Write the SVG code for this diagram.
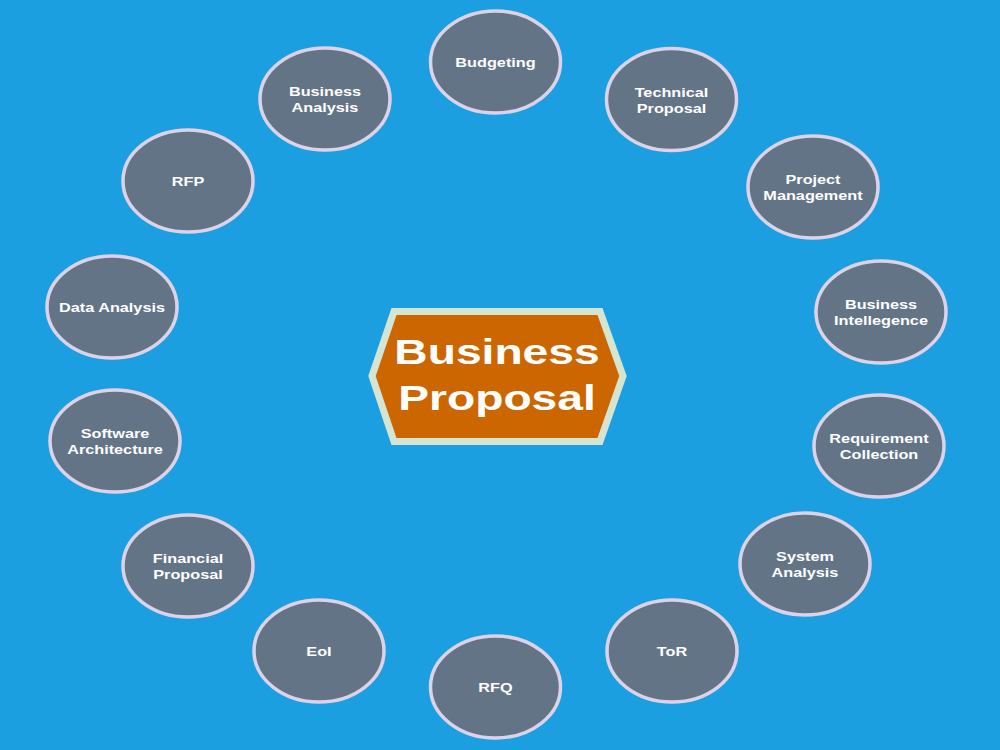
<svg xmlns="http://www.w3.org/2000/svg" width="1000" height="750" viewBox="0 0 1000 750">
<defs>
<style>
.bg{fill:#1c9fe1}
.node ellipse{fill:#637487;stroke:#ddd2e8;stroke-width:3.5}
.node text{font-family:"Liberation Sans",Arial,sans-serif;font-weight:bold;font-size:13px;fill:#ffffff;text-anchor:middle}
.hex{fill:#cc6600;stroke:#d4e6d2;stroke-width:7;stroke-linejoin:miter}
.title{font-family:"Liberation Sans",Arial,sans-serif;font-weight:bold;font-size:35px;fill:#ffffff;text-anchor:middle}
</style>
</defs>
<rect class="bg" x="0" y="0" width="1000" height="750"/>
<g id="connectors"></g>
<g id="center">
<polygon class="hex" points="372,376 394,311.5 600,311.5 623,376 600,441.5 394,441.5"/>
<text class="title" transform="translate(497,364) scale(1.32,1)">Business</text>
<text class="title" transform="translate(497,410) scale(1.32,1)">Proposal</text>
</g>
<g id="budgeting" class="node" transform="translate(495.5,62)"><ellipse rx="65" ry="51"/><text transform="translate(0,5) scale(1.25,1)">Budgeting</text></g>
<g id="technical-proposal" class="node" transform="translate(671.5,99.5)"><ellipse rx="65" ry="51"/><text transform="translate(0,-3) scale(1.25,1)">Technical</text><text transform="translate(0,13) scale(1.25,1)">Proposal</text></g>
<g id="project-management" class="node" transform="translate(813,187)"><ellipse rx="65" ry="51"/><text transform="translate(0,-3) scale(1.25,1)">Project</text><text transform="translate(0,13) scale(1.25,1)">Management</text></g>
<g id="business-intellegence" class="node" transform="translate(881,312)"><ellipse rx="65" ry="51"/><text transform="translate(0,-3) scale(1.25,1)">Business</text><text transform="translate(0,13) scale(1.25,1)">Intellegence</text></g>
<g id="requirement-collection" class="node" transform="translate(879,446)"><ellipse rx="65" ry="51"/><text transform="translate(0,-3) scale(1.25,1)">Requirement</text><text transform="translate(0,13) scale(1.25,1)">Collection</text></g>
<g id="system-analysis" class="node" transform="translate(805,564)"><ellipse rx="65" ry="51"/><text transform="translate(0,-3) scale(1.25,1)">System</text><text transform="translate(0,13) scale(1.25,1)">Analysis</text></g>
<g id="tor" class="node" transform="translate(672,651)"><ellipse rx="65" ry="51"/><text transform="translate(0,5) scale(1.25,1)">ToR</text></g>
<g id="rfq" class="node" transform="translate(495.5,687)"><ellipse rx="65" ry="51"/><text transform="translate(0,5) scale(1.25,1)">RFQ</text></g>
<g id="eoi" class="node" transform="translate(319,651)"><ellipse rx="65" ry="51"/><text transform="translate(0,5) scale(1.25,1)">EoI</text></g>
<g id="financial-proposal" class="node" transform="translate(188,566)"><ellipse rx="65" ry="51"/><text transform="translate(0,-3) scale(1.25,1)">Financial</text><text transform="translate(0,13) scale(1.25,1)">Proposal</text></g>
<g id="software-architecture" class="node" transform="translate(115,441)"><ellipse rx="65" ry="51"/><text transform="translate(0,-3) scale(1.25,1)">Software</text><text transform="translate(0,13) scale(1.25,1)">Architecture</text></g>
<g id="data-analysis" class="node" transform="translate(112,307)"><ellipse rx="65" ry="51"/><text transform="translate(0,5) scale(1.25,1)">Data Analysis</text></g>
<g id="rfp" class="node" transform="translate(188,181)"><ellipse rx="65" ry="51"/><text transform="translate(0,5) scale(1.25,1)">RFP</text></g>
<g id="business-analysis" class="node" transform="translate(325,99)"><ellipse rx="65" ry="51"/><text transform="translate(0,-3) scale(1.25,1)">Business</text><text transform="translate(0,13) scale(1.25,1)">Analysis</text></g>
</svg>
